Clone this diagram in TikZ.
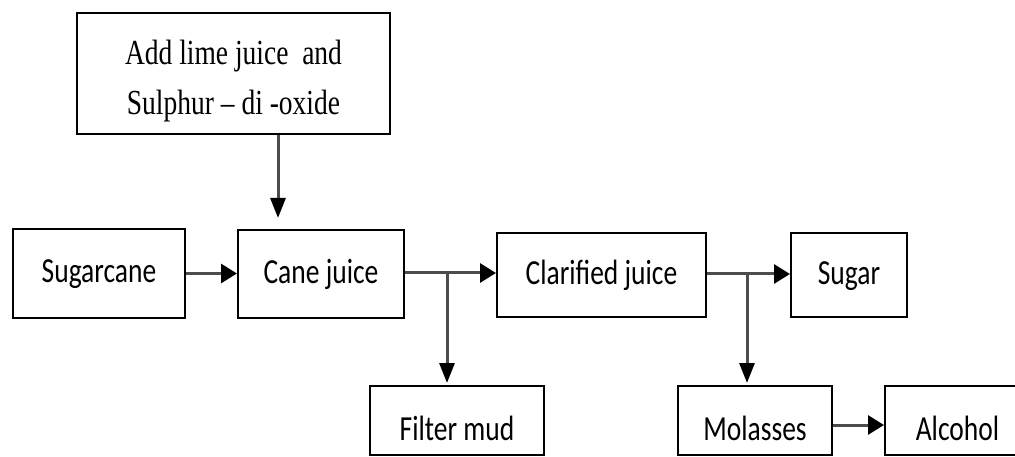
\documentclass[tikz,border=0pt]{standalone}
\usepackage{fontspec}
\setmainfont{Liberation Serif}
\newfontfamily\calib{Carlito}
\usetikzlibrary{arrows.meta}
\newcommand{\vstr}[1]{\scalebox{1}[1.28]{#1}}
\tikzset{
  box/.style={draw=black, line width=2pt, inner sep=0pt, fill=white,
    font=\calib\fontsize{27.5}{33}\selectfont, text height=26pt, text depth=7pt},
  lowbox/.style={box, text height=39pt, text depth=0pt},
  harr/.style={draw=black!70, line width=3pt,
    -{Triangle[length=16pt,width=19pt,color=black]}},
  varr/.style={draw=black!70, line width=3pt,
    -{Triangle[length=20pt,width=15pt,color=black]}}
}
\begin{document}
\begin{tikzpicture}[x=1pt,y=-1pt]
\clip (0,0) rectangle (1015,457);
\useasboundingbox (0,0) rectangle (1015,457);
\fill[white] (0,0) rectangle (1015,457);
\node[box, minimum width=313pt, minimum height=121pt, text height=, text depth=] (top) at (233.5,73.5)
  {\raisebox{0pt}[30pt][47pt]{\vstr{\fontsize{27.5}{39}\selectfont\rmfamily\begin{tabular}[t]{@{}c@{}}Add lime juice\ \ and\\Sulphur -- di -oxide\end{tabular}}}};
\node[box, minimum width=172pt, minimum height=89pt] (sugarcane) at (99,273.5) {\vstr{Sugarcane}};
\node[box, minimum width=166pt, minimum height=88pt] (cane) at (321,274) {\vstr{Cane juice}};
\node[box, minimum width=209pt, minimum height=84pt] (clar) at (601.5,275) {\vstr{Clarified juice}};
\node[box, minimum width=116pt, minimum height=84pt] (sugar) at (849,275) {\vstr{Sugar}};
\node[lowbox, minimum width=174pt, minimum height=69pt] (filter) at (457,420.5) {\vstr{Filter mud}};
\node[lowbox, minimum width=154pt, minimum height=69pt] (molasses) at (755,420.5) {\vstr{Molasses}};
\node[lowbox, minimum width=145pt, minimum height=69pt] (alcohol) at (957.5,420.5) {\vstr{Alcohol}};
\coordinate (j1) at (447,273);
\coordinate (j2) at (747,274);
\draw[varr, shorten >=11pt] ([xshift=44.5pt]top.south) -- ([xshift=-43pt]cane.north);
\draw[harr] (sugarcane.east) -- (sugarcane.east -| cane.west);
\draw[harr] (cane.east |- j1) -- (j1 -| clar.west);
\draw[varr, shorten >=2pt] (j1) -- (j1 |- filter.north);
\draw[harr] (clar.east |- j2) -- (j2 -| sugar.west);
\draw[varr, shorten >=2pt] (j2) -- (j2 |- molasses.north);
\draw[harr] ([yshift=-4.5pt]molasses.east) -- ([yshift=-4.5pt]alcohol.west);
\end{tikzpicture}
\end{document}
